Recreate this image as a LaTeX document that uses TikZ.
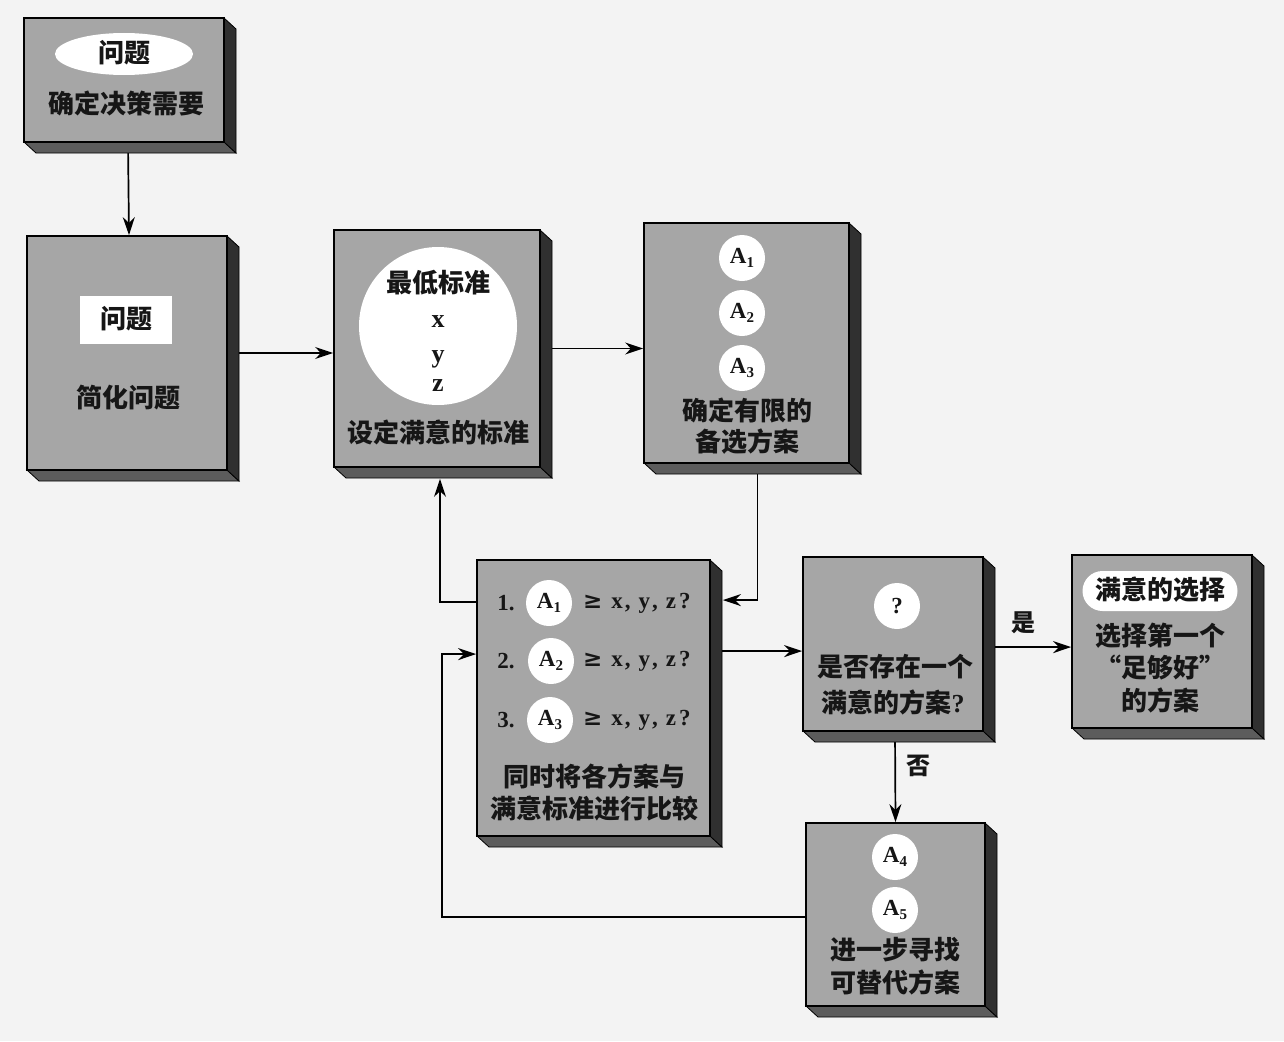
\documentclass[tikz,border=0pt]{standalone}
\usepackage{fontspec}
\setmainfont{Liberation Serif}
\newfontfamily\cjk{Noto Sans CJK SC}
\newfontfamily\symf{DejaVu Serif}
\usetikzlibrary{arrows.meta,calc,backgrounds,shapes.geometric}
\definecolor{bgc}{HTML}{F3F3F3}
\definecolor{facec}{HTML}{A6A6A6}
\definecolor{sideR}{HTML}{303030}
\definecolor{sideB}{HTML}{5C5C5C}
\definecolor{inkc}{HTML}{161616}
\newcommand\subn[1]{\raisebox{-0.35ex}{\fontsize{15}{15}\selectfont #1}}
\newcommand\geqxyz{{\symf ≥}\hspace{9pt}x\hspace{2pt},\hspace{8pt}y\hspace{2pt},\hspace{8pt}z\hspace{3pt}?}
\newcommand\tdbox[5]{%
  \fill[sideB,draw=black,line width=0.8pt] (#2,#5) -- (#4,#5) -- (#4+12,#5+11) -- (#2+12,#5+11) -- cycle;
  \fill[sideR,draw=black,line width=0.8pt] (#4,#3) -- (#4+12,#3+11) -- (#4+12,#5+11) -- (#4,#5) -- cycle;
  \node[face, minimum width={(#4-#2)*1pt}, minimum height={(#5-#3)*1pt}] (#1) at ({(#2+#4)/2},{(#3+#5)/2}) {};
}
\begin{document}
\begin{tikzpicture}[x=1pt,y=-1pt,
  face/.style={draw=black, line width=1.8pt, fill=facec, inner sep=0pt},
  zh/.style={font=\cjk\bfseries\fontsize{26}{30}\selectfont, text=inkc, inner sep=0pt},
  lat/.style={font=\bfseries\fontsize{23}{26}\selectfont, text=inkc, inner sep=0pt},
  disc/.style={circle, fill=white, minimum size=46pt, inner sep=0pt, font=\bfseries\fontsize{23}{26}\selectfont, text=inkc},
  conn/.style={draw=black, line width=1.7pt, -{Stealth[length=18pt,width=12pt]}},
  lbl/.style={font=\cjk\bfseries\fontsize{24}{26}\selectfont, text=inkc, inner sep=0pt}]
\useasboundingbox (0,0) rectangle (1284,1041);

% boxes
\tdbox{b1}{24}{18}{224}{142}
\tdbox{b2}{27}{236}{227}{470}
\tdbox{b3}{334}{230}{540}{467}
\tdbox{b4}{644}{223}{849}{463}
\tdbox{b5}{477}{560}{710}{836}
\tdbox{b6}{803}{557}{983}{731}
\tdbox{b7}{1072}{555}{1252}{728}
\tdbox{b8}{806}{823}{985}{1006}

% box 1
\node[ellipse, fill=white, minimum width=138pt, minimum height=42pt, inner sep=0pt] (e1) at (124,54) {};
\node[zh] (t1a) at (124,53) {问题};
\node[zh] (t1b) at (126,103) {确定决策需要};

% box 2
\node[fill=white, minimum width=92pt, minimum height=48pt, inner sep=0pt] (r2) at (126,320) {};
\node[zh] (t2a) at (126,319) {问题};
\node[zh] (t2b) at (128,398) {简化问题};

% box 3
\node[circle, fill=white, minimum size=158pt, inner sep=0pt] (c3) at (438,326) {};
\node[zh] (t3a) at (438,283) {最低标准};
\node[lat, font=\bfseries\fontsize{26}{28}\selectfont] (t3x) at (438,322) {x};
\node[lat, font=\bfseries\fontsize{26}{28}\selectfont, anchor=base] (t3y) at (438,362) {y};
\node[lat, font=\bfseries\fontsize{26}{28}\selectfont] (t3z) at (438,386) {z};
\node[zh] (t3b) at (438,432) {设定满意的标准};

% box 4
\node[disc] (a1) at (742,258) {A\subn{1}};
\node[disc] (a2) at (742,313) {A\subn{2}};
\node[disc] (a3) at (742,368) {A\subn{3}};
\node[zh] (t4a) at (747,410) {确定有限的};
\node[zh] (t4b) at (747,442) {备选方案};

% box 5
\node[lat] (n1) at (506,603) {1.};
\node[disc] (q1) at (549,603) {A\subn{1}};
\node[lat, anchor=west] (g1) at (583,603) {\geqxyz};
\node[lat] (n2) at (506,661) {2.};
\node[disc] (q2) at (551,661) {A\subn{2}};
\node[lat, anchor=west] (g2) at (583,661) {\geqxyz};
\node[lat] (n3) at (506,720) {3.};
\node[disc] (q3) at (550,720) {A\subn{3}};
\node[lat, anchor=west] (g3) at (583,720) {\geqxyz};
\node[zh] (t5a) at (594,776) {同时将各方案与};
\node[zh] (t5b) at (594,808) {满意标准进行比较};

% box 6
\node[disc] (qm) at (897,606) {?};
\node[zh] (t6a) at (895,667) {是否存在一个};
\node[zh] (t6b) at (893,702) {满意的方案\textrm{?}};

% box 7
\node[rounded corners=20pt, fill=white, minimum width=155pt, minimum height=40pt, inner sep=0pt] (p7) at (1160,591) {};
\node[zh] (t7a) at (1160,590) {满意的选择};
\node[zh] (t7b) at (1160,636) {选择第一个};
\node[zh] (t7c) at (1160,668) {“足够好”};
\node[zh] (t7d) at (1160,700) {的方案};

% box 8
\node[disc] (a4) at (895,857) {A\subn{4}};
\node[disc] (a5) at (895,910) {A\subn{5}};
\node[zh] (t8a) at (895,950) {进一步寻找};
\node[zh] (t8b) at (895,982) {可替代方案};

\coordinate (m56) at ($(b5.north east)+(0,92)$);
\coordinate (m67) at ($(b6.north east)+(0,91)$);

\begin{pgfonlayer}{background}
\fill[bgc] (0,0) rectangle (1284,1041);
\draw[conn] ($(b1.south)+(4,0)$) -- ($(b2.north)+(2,0)$);
\draw[conn] (b2.east) -- (b2.east -| b3.west);
\draw[conn] (b3.east) -- (b3.east -| b4.west);
\draw[conn] ($(b4.south)+(11,0)$) |- ($(b5.north east)+(12,41)$);
\draw[conn] ($(b5.north west)+(0,43)$) -| ($(b3.south)+(3,11)$);
\draw[conn] (m56) -- (m56 -| b6.west);
\draw[conn] (m67) -- (m67 -| b7.west)
   node[lbl, pos=0.45, above=12pt] (yes) {是};
\draw[conn] ($(b6.south)+(2,0)$) -- ($(b8.north)+(0,0)$)
   node[lbl, pos=0.38, right=10pt] (no) {否};
\draw[conn] ($(b8.north west)+(0,95)$) -| ($(b5.north west)+(-34,95)$) -- ($(b5.north west)+(0,95)$);
\end{pgfonlayer}
\end{tikzpicture}
\end{document}
